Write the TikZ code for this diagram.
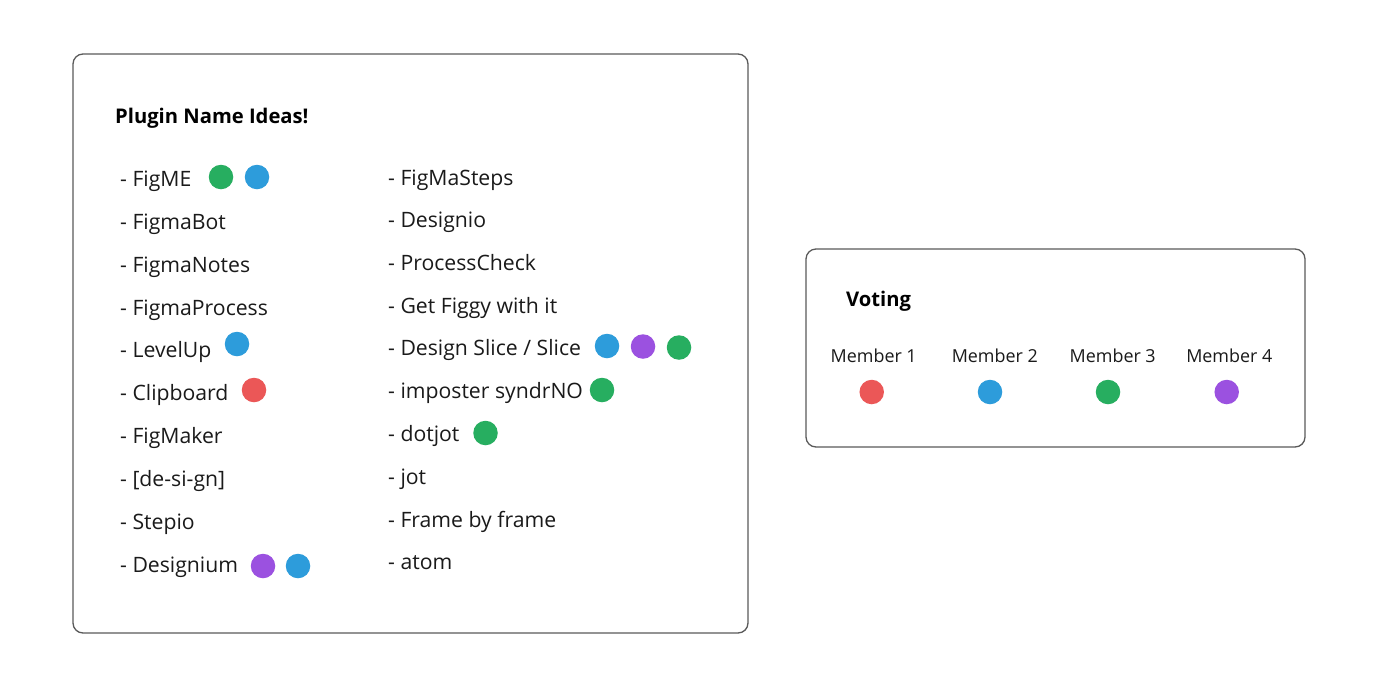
\documentclass[tikz,border=0pt]{standalone}
\usepackage{fontspec}
\setmainfont{Open Sans}
\definecolor{fgred}{HTML}{EB5757}
\definecolor{fgblue}{HTML}{2D9CDB}
\definecolor{fggreen}{HTML}{27AE60}
\definecolor{fgpurple}{HTML}{9B51E0}
\definecolor{frame}{HTML}{5A5A5A}
\definecolor{ink}{HTML}{1A1A1A}
\tikzset{
  panel/.style={draw=frame, line width=1.3pt, rounded corners=10pt, fill=white},
  item/.style={anchor=base west, inner sep=0pt, font=\fontsize{21.2}{24}\selectfont, text=ink},
  heading/.style={anchor=base west, inner sep=0pt, font=\fontsize{20.2}{24}\selectfont\bfseries, text=black},
  member/.style={anchor=base, inner sep=0pt, font=\fontsize{17.9}{22}\selectfont, text=ink},
  vote/.style={circle, inner sep=0pt, minimum size=24.5pt},
}
\begin{document}
\begin{tikzpicture}[x=1pt,y=-1pt]
\useasboundingbox (0,0) rectangle (1400,697);
\fill[white] (0,0) rectangle (1400,697);
% panels
\draw[panel] (73,54) rectangle (748,633);
\draw[panel] (806,249) rectangle (1305,447);
% left title
\node[heading] (title) at (115,123) {Plugin Name Ideas!};
% left column
\node[item] (l1)  at (120,186) {- FigME};
\node[item] (l2)  at (120,229) {- FigmaBot};
\node[item] (l3)  at (120,272) {- FigmaNotes};
\node[item] (l4)  at (120,315) {- FigmaProcess};
\node[item] (l5)  at (120,357) {- LevelUp};
\node[item] (l6)  at (120,400) {- Clipboard};
\node[item] (l7)  at (120,443) {- FigMaker};
\node[item] (l8)  at (120,486) {- [de-si-gn]};
\node[item] (l9)  at (120,529) {- Stepio};
\node[item] (l10) at (120,572) {- Designium};
% right column
\node[item] (r1)  at (388,185) {- FigMaSteps};
\node[item] (r2)  at (388,227) {- Designio};
\node[item] (r3)  at (388,270) {- ProcessCheck};
\node[item] (r4)  at (388,313) {- Get Figgy with it};
\node[item] (r5)  at (388,355) {- Design Slice / Slice};
\node[item] (r6)  at (388,398) {- imposter syndrNO};
\node[item] (r7)  at (388,441) {- dotjot};
\node[item] (r8)  at (388,484) {- jot};
\node[item] (r9)  at (388,527) {- Frame by frame};
\node[item] (r10) at (388,569) {- atom};
% dots in left panel
\node[vote, fill=fggreen]  (d1a) at (221,177) {};
\node[vote, fill=fgblue]   (d1b) at (257,177) {};
\node[vote, fill=fgblue]   (d5)  at (237,344) {};
\node[vote, fill=fgred]    (d6)  at (254,390) {};
\node[vote, fill=fgpurple] (d10a) at (263,566) {};
\node[vote, fill=fgblue]   (d10b) at (298,566) {};
\node[vote, fill=fgblue]   (e5a) at (607,346) {};
\node[vote, fill=fgpurple] (e5b) at (643,346.5) {};
\node[vote, fill=fggreen]  (e5c) at (679,347.5) {};
\node[vote, fill=fggreen]  (e6)  at (602,390) {};
\node[vote, fill=fggreen]  (e7)  at (485.5,433) {};
% voting panel
\node[heading] (voting) at (846,306) {Voting};
\node[member] (m1) at (873.7,362.5) {Member 1};
\node[member] (m2) at (994.8,362.5) {Member 2};
\node[member] (m3) at (1112.7,362.5) {Member 3};
\node[member] (m4) at (1229.3,362.5) {Member 4};
\node[vote, fill=fgred]    (v1) at (871.7,392) {};
\node[vote, fill=fgblue]   (v2) at (990,392) {};
\node[vote, fill=fggreen]  (v3) at (1108,392) {};
\node[vote, fill=fgpurple] (v4) at (1226.7,392) {};
\end{tikzpicture}
\end{document}
